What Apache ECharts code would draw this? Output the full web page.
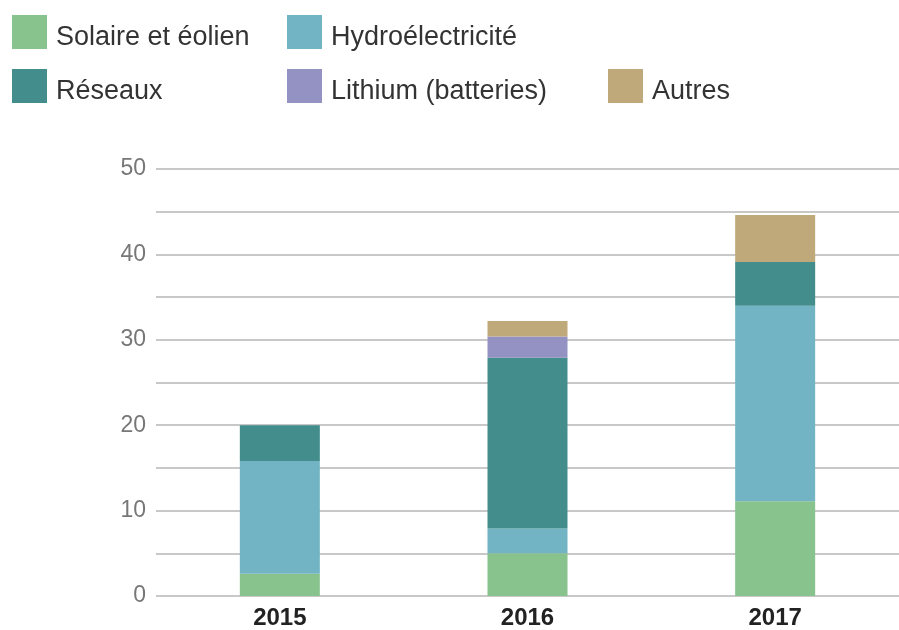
<!DOCTYPE html>
<html><head><meta charset="utf-8">
<script src="https://cdn.jsdelivr.net/npm/echarts@6/dist/echarts.min.js"></script>
<style>html,body{margin:0;padding:0;background:#fff}#c{width:899px;height:630px}</style>
</head><body><div id="c"></div>
<script>
const categories = ['2015', '2016', '2017'];
const solaire = [2.6, 5.0, 11.1];
const hydro = [13.2, 2.9, 22.9];
const reseaux = [4.2, 20.0, 5.1];
const lithium = [0, 2.5, 0];
const autres = [0, 1.8, 5.5];
const yTicks = [0, 10, 20, 30, 40, 50];

const names = ['Solaire et éolien', 'Hydroélectricité', 'Réseaux', 'Lithium (batteries)', 'Autres'];
const colors = ['#88c28c', '#72b4c4', '#438d8d', '#9491c3', '#bfa87a'];
const values = [solaire, hydro, reseaux, lithium, autres];
const legendPos = [[12, 15], [287, 15], [12, 69], [287, 69], [608, 69]];

const font = '"Liberation Sans", Arial, Helvetica, sans-serif';
const chart = echarts.init(document.getElementById('c'));
chart.setOption({
  animation: false,
  color: colors,
  legend: names.map((n, i) => ({
    data: [n], left: legendPos[i][0], top: legendPos[i][1],
    itemWidth: 35, itemHeight: 46, itemGap: 0,
    icon: 'path://M0,0L35,0L35,34L0,34ZM0,46',
    textStyle: { fontFamily: font, fontSize: 27, color: '#333', padding: [0, 0, 0, 4] },
    selectedMode: false, padding: 0
  })),
  grid: { left: 156, right: 0, top: 169, bottom: 32, containLabel: false },
  xAxis: {
    type: 'category', data: categories,
    axisLine: { show: false }, axisTick: { show: false },
    axisLabel: { fontFamily: font, fontSize: 24, fontWeight: 'bold', color: '#222', margin: 10 }
  },
  yAxis: {
    type: 'value', min: 0, max: 50, interval: 5,
    axisLine: { show: false }, axisTick: { show: false },
    splitLine: { lineStyle: { color: '#c8c8c8', width: 2 } },
    axisLabel: {
      fontFamily: font, fontSize: 23, color: '#777', margin: 10,
      formatter: v => yTicks.includes(v) ? String(v) : ''
    }
  },
  series: names.map((n, i) => ({
    name: n, type: 'bar', stack: 'total', barWidth: 80,
    data: values[i], itemStyle: { color: colors[i] }
  }))
});
</script></body></html>
